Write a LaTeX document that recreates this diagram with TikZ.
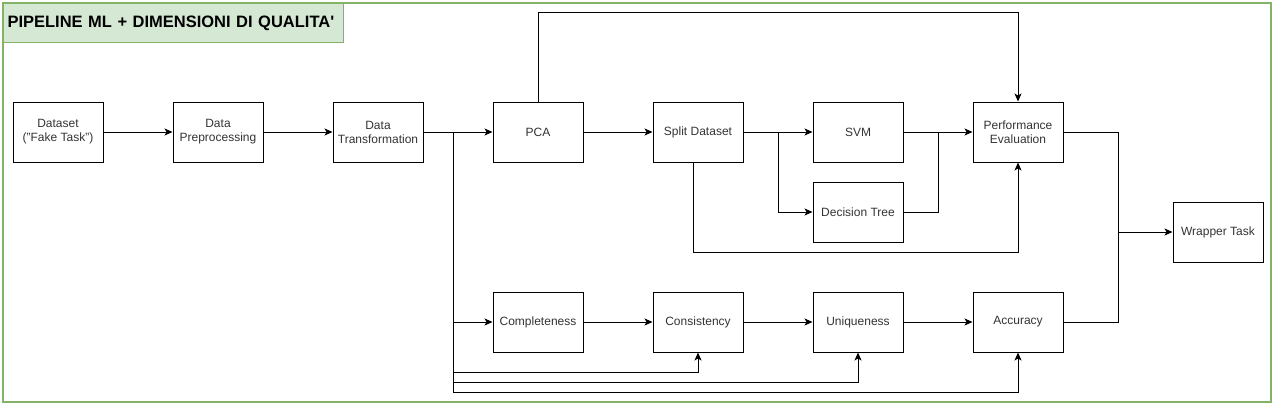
\documentclass[tikz,border=0pt]{standalone}
\usepackage{fontspec}
\setmainfont{Liberation Sans}
\usetikzlibrary{positioning, arrows.meta}
\definecolor{framegreen}{HTML}{82B366}
\definecolor{titlegreen}{HTML}{D5E8D4}

\begin{document}
\begin{tikzpicture}
            [->, >={Stealth[length=8pt, width=7pt, inset=2pt]}, x=1pt, y=-1pt, line width=1pt,
             block/.style={shape=rectangle, draw=black, minimum width=90pt, minimum height=60pt,
                           align=center, text=black!80, font=\fontsize{12}{14}\selectfont}]
            \useasboundingbox (0,0) rectangle (1273,405);
            \draw[-, draw=framegreen, line width=2.5pt] (3,3) rectangle (1271,402);
            \node[shape=rectangle, draw=framegreen, fill=titlegreen, anchor=north west,
                  text width=332pt, inner xsep=4pt, minimum height=39pt, align=left,
                  font=\fontsize{16.5}{18}\selectfont\bfseries] (title) at (3,3)
                  {PIPELINE ML + DIMENSIONI DI QUALITA\textquotesingle};

            % upper row
            \node[block] (data) at (58, 132) {Dataset\\("Fake Task")};
            \node[block] (prep) at (218, 132) {Data\\Preprocessing};
            \node[block] (trans) at (378, 132) {Data\\Transformation};
            \node[block] (pca) at (538, 132) {PCA};
            \node[block] (split) at (698, 132) {Split Dataset};
            \node[block] (svm) at (858, 132) {SVM};
            \node[block] (dtree) at (858, 212) {Decision Tree};
            \node[block] (perf) at (1018, 132) {Performance\\Evaluation};
            \node[block] (wrap) at (1218, 232) {Wrapper Task};

            % lower row
            \node[block] (compl) at (538, 322) {Completeness};
            \node[block] (consis) at (698, 322) {Consistency};
            \node[block] (uniq) at (858, 322) {Uniqueness};
            \node[block] (acc) at (1018, 322) {Accuracy};

            \coordinate (tb) at (453, 132);
            \coordinate (tq1) at (453, 372);
            \coordinate (tq2) at (453, 382);
            \coordinate (tq3) at (453, 392);
            \coordinate (sb) at (778, 132);
            \coordinate (mj) at (938, 132);
            \coordinate (tp) at (1018, 12);
            \coordinate (sd) at (693, 252);
            \coordinate (wj) at (1118, 232);

            \path [->] (data) edge (prep);
            \path [->] (prep) edge (trans);
            \path [->] (trans) edge (pca);
            \path [->] (pca) edge (split);
            \path [->] (split) edge (svm);
            \path [->] (svm) edge (perf);
            \path [->] (compl) edge (consis);
            \path [->] (consis) edge (uniq);
            \path [->] (uniq) edge (acc);

            \draw [->] (sb) |- (dtree);
            \draw [-] (dtree) -| (mj);
            \draw [->] (pca.north) |- (tp) -- (perf);
            \draw [->] ([xshift=-5pt]split.south) -- (sd) -| (perf);

            \draw [-] (tb) -- (tq3);
            \draw [->] (tb) |- (compl);
            \draw [->] (tq1) -| (consis);
            \draw [->] (tq2) -| (uniq);
            \draw [->] (tq3) -| (acc);

            \draw [-] (perf) -| (wj);
            \draw [-] (acc) -| (wj);
            \draw [->] (wj) -- (wrap);
        \end{tikzpicture}
\end{document}
